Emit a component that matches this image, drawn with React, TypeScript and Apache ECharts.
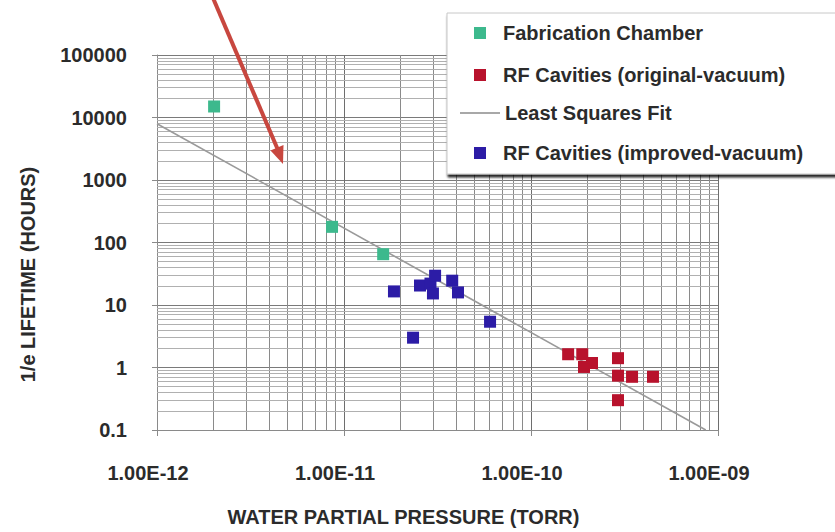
import React, { useEffect, useRef } from "react";
import * as echarts from "echarts";

// Water partial pressure (torr) vs 1/e lifetime (hours)
const fabPressure = [2.02e-12, 8.63e-12, 1.62e-11];
const fabLifetime = [15000, 178, 65];

const origPressure = [1.58e-10, 1.88e-10, 1.92e-10, 2.12e-10, 2.92e-10, 2.92e-10, 3.47e-10, 4.49e-10, 2.92e-10];
const origLifetime = [1.63, 1.63, 1.02, 1.18, 1.41, 0.74, 0.71, 0.71, 0.3];

const improvedPressure = [1.85e-11, 2.34e-11, 2.55e-11, 2.9e-11, 3.07e-11, 2.99e-11, 3.79e-11, 4.07e-11, 6.04e-11];
const improvedLifetime = [16.5, 3.0, 20.5, 22, 29.4, 15.3, 24.5, 15.9, 5.4];

// Least squares fit, drawn as a straight line in log-log space
const fitPressure = [1e-12, 8.6e-10];
const fitLifetime = [7960, 0.1];

const xTickLabels = ["1.00E-12", "1.00E-11", "1.00E-10", "1.00E-09"];
const yTickLabels = ["0.1", "1", "10", "100", "1000", "10000", "100000"];

const seriesNames = [
  "Fabrication Chamber",
  "RF Cavities (original-vacuum)",
  "Least Squares Fit",
  "RF Cavities (improved-vacuum)",
];

const X_MIN = 1e-12;
const X_MAX = 1e-9;
const Y_MIN = 0.1;
const Y_MAX = 100000;

const FONT = "Liberation Sans, Arial, Helvetica, sans-serif";
const TEXT = "#2b2b2b";

const pairs = (xs: number[], ys: number[]) => xs.map((x, i) => [x, ys[i]]);

// Minor log grid positions (2..9 within each decade)
function minorValues(fromExp: number, toExp: number) {
  const out: number[] = [];
  for (let e = fromExp; e < toExp; e++) {
    for (let k = 2; k <= 9; k++) out.push(k * Math.pow(10, e));
  }
  return out;
}

export default function App() {
  const ref = useRef<HTMLDivElement>(null);

  useEffect(() => {
    if (!ref.current) return;
    const chart = echarts.init(ref.current, null, { renderer: "svg" });

    const vMinor = minorValues(-12, -9).map((v) => [
      { coord: [v, Y_MIN], lineStyle: { color: "#8a8a8a", width: 1, type: "solid" as const } },
      { coord: [v, Y_MAX] },
    ]);
    const hMinor = minorValues(-1, 5).map((v) => [
      { coord: [X_MIN, v], lineStyle: { color: "#b0b0b0", width: 1, type: "solid" as const } },
      { coord: [X_MAX, v] },
    ]);

    const labelStyle = {
      fontSize: 20,
      fontWeight: "bold" as const,
      color: TEXT,
      fontFamily: FONT,
    };

    const legendText = {
      fontSize: 20,
      fontWeight: "bold" as const,
      color: TEXT,
      fontFamily: FONT,
      lineHeight: 20,
    };

    const option: echarts.EChartsOption = {
      animation: false,
      backgroundColor: "#ffffff",
      grid: { left: 157, right: 117, top: 55, bottom: 95, containLabel: false },
      xAxis: {
        type: "log",
        logBase: 10,
        min: X_MIN,
        max: X_MAX,
        axisLine: { show: true, lineStyle: { color: "#8a8a8a", width: 1 } },
        axisTick: { show: true, length: 6, lineStyle: { color: "#8a8a8a" } },
        axisLabel: {
          ...labelStyle,
          margin: 33,
          padding: [0, 18, 0, 0],
          formatter: (v: number) => xTickLabels[Math.round(Math.log10(v)) + 12],
        },
        splitLine: { show: true, lineStyle: { color: "#6e6e6e", width: 1 } },
        name: "WATER PARTIAL PRESSURE (TORR)",
        nameLocation: "middle",
        nameGap: 77,
        nameTextStyle: { ...labelStyle, padding: [0, 68, 0, 0] },
      },
      yAxis: {
        type: "log",
        logBase: 10,
        min: Y_MIN,
        max: Y_MAX,
        axisLine: { show: true, lineStyle: { color: "#8a8a8a", width: 1 } },
        axisTick: { show: true, length: 5, lineStyle: { color: "#8a8a8a" } },
        axisLabel: {
          ...labelStyle,
          margin: 30,
          formatter: (v: number) => yTickLabels[Math.round(Math.log10(v)) + 1],
        },
        splitLine: { show: true, lineStyle: { color: "#7a7a7a", width: 1 } },
        name: "1/e LIFETIME (HOURS)",
        nameLocation: "middle",
        nameRotate: 90,
        nameGap: 119,
        nameTextStyle: { ...labelStyle, padding: [0, 64, 0, 0] },
      },
      legend: [
        {
          data: [seriesNames[0], seriesNames[1]],
          orient: "vertical",
          left: 469,
          top: 18,
          itemWidth: 12,
          itemHeight: 12,
          itemGap: 22,
          z: 6,
          textStyle: { ...legendText, padding: [0, 0, 0, 12] },
        },
        {
          data: [{ name: seriesNames[2], icon: "rect" }],
          orient: "vertical",
          left: 455,
          top: 98,
          itemWidth: 40,
          itemHeight: 2,
          z: 6,
          textStyle: { ...legendText },
        },
        {
          data: [seriesNames[3]],
          orient: "vertical",
          left: 469,
          top: 138,
          itemWidth: 12,
          itemHeight: 12,
          z: 6,
          textStyle: { ...legendText, padding: [0, 0, 0, 12] },
        },
      ],
      graphic: [
        {
          type: "rect",
          z: 5,
          shape: { x: 447, y: 13, width: 400, height: 161 },
          style: {
            fill: "#ffffff",
            stroke: "#c8c8c8",
            lineWidth: 1,
            shadowColor: "rgba(0,0,0,0.85)",
            shadowBlur: 2,
            shadowOffsetX: 1,
            shadowOffsetY: 3,
          },
        },
        {
          type: "line",
          z: 7,
          shape: { x1: 213, y1: -2, x2: 278, y2: 150 },
          style: { stroke: "#c8473f", lineWidth: 4 },
        },
        {
          type: "polygon",
          z: 7,
          shape: {
            points: [
              [283, 164],
              [270.5, 150.5],
              [283.5, 145],
            ],
          },
          style: { fill: "#c8473f" },
        },
      ],
      series: [
        {
          name: seriesNames[2],
          type: "line",
          data: pairs(fitPressure, fitLifetime),
          showSymbol: false,
          symbol: "none",
          z: 3,
          lineStyle: { color: "#9a9a9a", width: 1.6 },
          itemStyle: { color: "#a8a8a8" },
          markLine: {
            silent: true,
            z: 1,
            symbol: ["none", "none"],
            label: { show: false },
            emphasis: { disabled: true },
            animation: false,
            data: [...vMinor, ...hMinor] as any,
          },
        },
        {
          name: seriesNames[0],
          type: "scatter",
          symbol: "rect",
          symbolSize: 12,
          z: 4,
          data: pairs(fabPressure, fabLifetime),
          itemStyle: { color: "#3db98d", opacity: 1 },
        },
        {
          name: seriesNames[1],
          type: "scatter",
          symbol: "rect",
          symbolSize: 12,
          z: 4,
          data: pairs(origPressure, origLifetime),
          itemStyle: { color: "#b8122c", opacity: 1 },
        },
        {
          name: seriesNames[3],
          type: "scatter",
          symbol: "rect",
          symbolSize: 12,
          z: 4,
          data: pairs(improvedPressure, improvedLifetime),
          itemStyle: { color: "#2c1ca6", opacity: 1 },
        },
      ],
    };

    chart.setOption(option);
    return () => chart.dispose();
  }, []);

  return (
    <div
      ref={ref}
      style={{ position: "fixed", left: 0, top: 0, width: 835, height: 532 }}
    />
  );
}
